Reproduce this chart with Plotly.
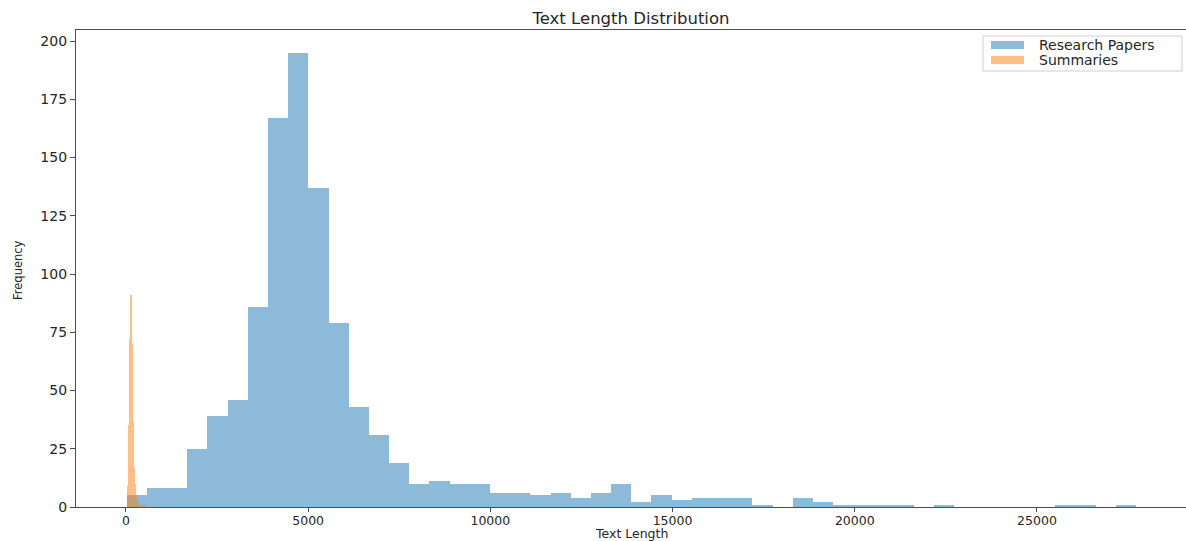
import plotly.graph_objects as go

# Research paper lengths, binned into 50 equal-width bins
paper_bin_start = 20
paper_bin_width = 553.9
paper_counts = [5, 8, 8, 25, 39, 46, 86, 167, 195, 137,
                79, 43, 31, 19, 10, 11, 10, 10, 6, 6,
                5, 6, 4, 6, 10, 2, 5, 3, 4, 4,
                4, 1, 0, 4, 2, 1, 1, 1, 1, 0,
                1, 0, 0, 0, 0, 0, 1, 1, 0, 1]

# Summary lengths, binned into 50 equal-width bins
summary_bin_start = 30
summary_bin_width = 10
summary_counts = [2, 5, 9, 15, 24, 35, 48, 60, 72, 84,
                  91, 88, 80, 70, 58, 47, 37, 29, 22, 17,
                  13, 10, 8, 6, 5, 4, 3, 3, 2, 2,
                  2, 1, 1, 1, 1, 0, 1, 0, 1, 0,
                  0, 1, 0, 0, 0, 1, 0, 0, 0, 1]

x_ticks = [0, 5000, 10000, 15000, 20000, 25000]
y_ticks = [0, 25, 50, 75, 100, 125, 150, 175, 200]

BLUE = "#1f77b4"
ORANGE = "#ff7f0e"
FONT = "DejaVu Sans"
TXT = "#262626"
AXIS = "#4d4d4d"


def centers(start, width, n):
    return [start + width * (i + 0.5) for i in range(n)]


fig = go.Figure()
fig.add_trace(go.Bar(
    x=centers(paper_bin_start, paper_bin_width, len(paper_counts)),
    y=paper_counts, width=paper_bin_width,
    marker=dict(color=BLUE, line=dict(width=0)), opacity=0.5,
    name="Research Papers", showlegend=False,
))
fig.add_trace(go.Bar(
    x=centers(summary_bin_start, summary_bin_width, len(summary_counts)),
    y=summary_counts, width=summary_bin_width,
    marker=dict(color=ORANGE, line=dict(width=0)), opacity=0.5,
    name="Summaries", showlegend=False,
))

W, H = 1186, 541
L, R, T, B = 76, 0, 30, 34
pw, ph = W - L - R, H - T - B


def px(xp):
    return (xp - L) / pw


def py(yp):
    return (H - B - yp) / ph


# legend box with colour patches
shapes = [dict(type="rect", xref="paper", yref="paper",
               x0=px(983), x1=px(1182), y0=py(71), y1=py(36),
               line=dict(color="#d0d0d0", width=1), fillcolor="rgba(255,255,255,0.8)",
               layer="above")]
annotations = []
for label, color, yc in [("Research Papers", BLUE, 45), ("Summaries", ORANGE, 60)]:
    shapes.append(dict(type="rect", xref="paper", yref="paper",
                       x0=px(991), x1=px(1024), y0=py(yc + 4), y1=py(yc - 4),
                       line=dict(width=0), fillcolor=color, opacity=0.5, layer="above"))
    annotations.append(dict(text=label, xref="paper", yref="paper",
                            x=px(1037), y=py(yc), xanchor="left", yanchor="middle",
                            showarrow=False, font=dict(family=FONT, size=14, color=TXT)))

# axis titles
annotations.append(dict(text="Text Length", xref="paper", yref="paper",
                        x=0.5, y=py(533), xanchor="center", yanchor="middle",
                        showarrow=False, font=dict(family=FONT, size=12.5, color=TXT)))
annotations.append(dict(text="Frequency", xref="paper", yref="paper",
                        x=px(18), y=py(270), xanchor="center", yanchor="middle",
                        textangle=-90, showarrow=False,
                        font=dict(family=FONT, size=11.5, color=TXT)))

fig.update_layout(
    width=W, height=H,
    margin=dict(l=L, r=R, t=T, b=B, pad=0, autoexpand=False),
    paper_bgcolor="white", plot_bgcolor="white",
    barmode="overlay", bargap=0,
    showlegend=False,
    title=dict(text="Text Length Distribution", x=(L + W - R) / 2 / W, xanchor="center",
               y=1 - 18 / H, yanchor="middle",
               font=dict(family=FONT, size=16.5, color=TXT)),
    font=dict(family=FONT, color=TXT),
    shapes=shapes, annotations=annotations,
)
fig.update_xaxes(
    range=[-1370, 29090], tickvals=x_ticks, ticktext=[str(v) for v in x_ticks],
    showgrid=False, zeroline=False, automargin=False,
    showline=True, mirror=True, linecolor=AXIS, linewidth=1.3,
    ticks="outside", ticklen=4, tickcolor=AXIS, tickwidth=1.3,
    ticklabelstandoff=-2,
    tickfont=dict(family=FONT, size=12.5, color=TXT),
)
fig.update_yaxes(
    range=[0, 204.75], tickvals=y_ticks, ticktext=[str(v) for v in y_ticks],
    showgrid=False, zeroline=False, automargin=False,
    showline=True, linecolor=AXIS, linewidth=1.3,
    ticks="outside", ticklen=5, tickcolor=AXIS, tickwidth=1.3,
    tickfont=dict(family=FONT, size=14, color=TXT),
)

fig.write_html("out.html")
